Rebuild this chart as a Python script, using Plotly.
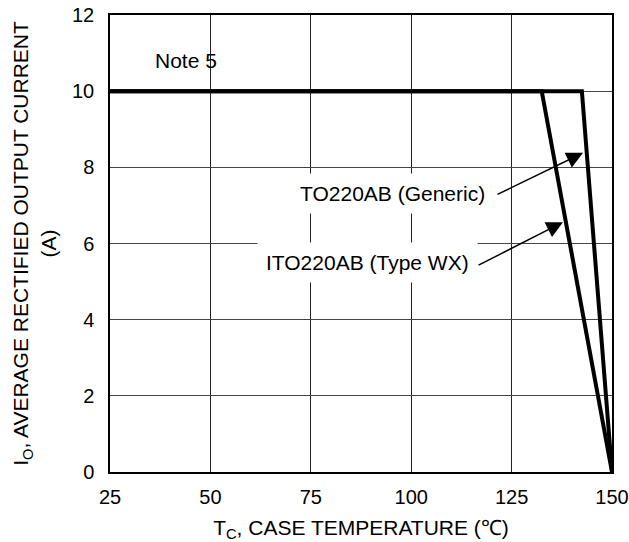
import plotly.graph_objects as go

# Data
to220_x = [25, 142.5, 150]
to220_y = [10, 10, 0]
ito220_x = [25, 132.5, 150]
ito220_y = [10, 10, 0]

x_ticks = [25, 50, 75, 100, 125, 150]
y_ticks = [0, 2, 4, 6, 8, 10, 12]

FONT = "Liberation Sans, Arial, sans-serif"
FS = 20
FS_TXT = 21

fig = go.Figure()
fig.add_trace(go.Scatter(x=ito220_x, y=ito220_y, mode="lines",
                         line=dict(color="black", width=4), showlegend=False))
fig.add_trace(go.Scatter(x=to220_x, y=to220_y, mode="lines",
                         line=dict(color="black", width=4), showlegend=False))

annotations = [
    # labels
    dict(x=120.5, y=7.3, xref="x", yref="y", text="TO220AB (Generic)", showarrow=False,
         xanchor="right", yanchor="middle", bgcolor="white", borderpad=8,
         font=dict(family=FONT, size=FS_TXT, color="black")),
    dict(x=116.6, y=5.5, xref="x", yref="y", text="ITO220AB (Type WX)", showarrow=False,
         xanchor="right", yanchor="middle", bgcolor="white", borderpad=8,
         font=dict(family=FONT, size=FS_TXT, color="black")),
    dict(x=43.9, y=10.8, xref="x", yref="y", text="Note 5", showarrow=False,
         xanchor="center", yanchor="middle",
         font=dict(family=FONT, size=FS_TXT, color="black")),
    # arrows
    dict(x=142.8, y=8.38, ax=121.1, ay=7.27, xref="x", yref="y", axref="x", ayref="y",
         text="", showarrow=True, arrowhead=2, arrowsize=2.2, arrowwidth=1.5, arrowcolor="black"),
    dict(x=137.8, y=6.56, ax=116.4, ay=5.41, xref="x", yref="y", axref="x", ayref="y",
         text="", showarrow=True, arrowhead=2, arrowsize=2.2, arrowwidth=1.5, arrowcolor="black"),
]

fig.update_layout(
    width=629, height=542,
    margin=dict(l=110, r=17, t=15, b=70),
    paper_bgcolor="white", plot_bgcolor="white",
    font=dict(family=FONT, size=FS, color="black"),
    annotations=annotations,
)
fig.update_xaxes(
    range=[25, 150], tickvals=x_ticks, ticktext=[str(v) for v in x_ticks],
    showgrid=True, gridcolor="#222", gridwidth=1,
    showline=True, linecolor="black", linewidth=1.5, mirror=True,
    ticks="", zeroline=False, automargin=False, ticklabelstandoff=6,
    ticklabeloverflow="allow",
    title=dict(text="T<sub>C</sub>, CASE TEMPERATURE (℃)", standoff=20,
               font=dict(family=FONT, size=FS_TXT)),
    tickfont=dict(family=FONT, size=FS),
)
fig.update_yaxes(
    range=[0, 12], tickvals=y_ticks, ticktext=[str(v) for v in y_ticks],
    showgrid=True, gridcolor="#444", gridwidth=1,
    showline=True, linecolor="black", linewidth=1.5, mirror=True,
    ticks="", zeroline=False, automargin=False, ticklabelstandoff=10,
    ticklabeloverflow="allow",
    title=dict(text="I<sub>O</sub>, AVERAGE RECTIFIED OUTPUT CURRENT<br>(A)", standoff=10,
               font=dict(family=FONT, size=FS_TXT)),
    tickfont=dict(family=FONT, size=FS),
)

fig.write_html("out.html", config={"displayModeBar": False},
               post_script="document.body.style.margin='0px';")
